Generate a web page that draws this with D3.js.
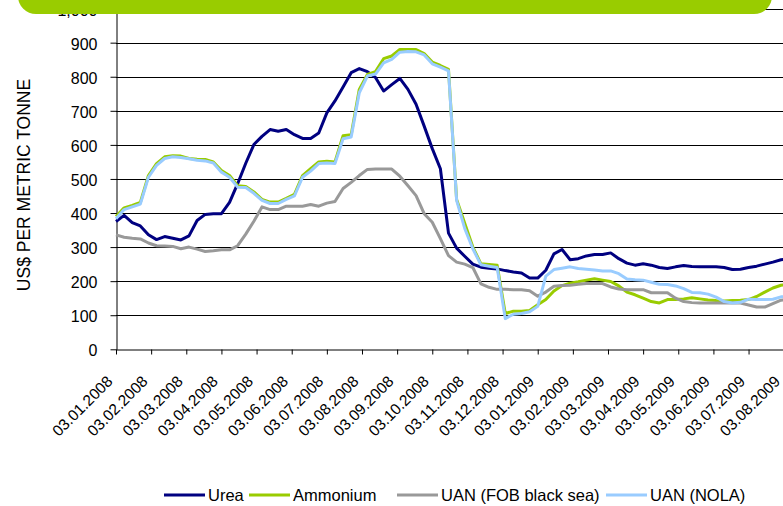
<!DOCTYPE html>
<html>
<head>
<meta charset="utf-8">
<script src="https://cdn.jsdelivr.net/npm/d3@7"></script>
<style>
    body { margin: 0; background: #fff; }
    svg { display: block; font-family: "Liberation Sans", Arial, sans-serif; }
</style>
</head>
<body>
<div id="chart"></div>
<script>
const width = 783;
const height = 506;

// Month labels on the x axis (one tick per month, data is weekly)
const dateLabels = [
    "03.01.2008", "03.02.2008", "03.03.2008", "03.04.2008", "03.05.2008",
    "03.06.2008", "03.07.2008", "03.08.2008", "03.09.2008", "03.10.2008",
    "03.11.2008", "03.12.2008", "03.01.2009", "03.02.2009", "03.03.2009",
    "03.04.2009", "03.05.2009", "03.06.2009", "03.07.2009", "03.08.2009"
];
const yTicks = [0, 100, 200, 300, 400, 500, 600, 700, 800, 900, 1000];

const seriesNames = ["Urea", "Ammonium", "UAN (FOB black sea)", "UAN (NOLA)"];
const seriesColors = ["#000080", "#99cc00", "#999999", "#99ccff"];

// Weekly prices, US$ per metric tonne
const urea = [
    375, 393, 372, 362, 336, 322, 331, 326, 321, 333,
    378, 396, 398, 398, 431, 486, 546, 601, 625, 645,
    640, 645, 630, 619, 619, 635, 694, 729, 770, 812,
    824, 815, 798, 758, 777, 795, 763, 719, 655, 589,
    530, 341, 297, 273, 250, 241, 238, 236, 231, 227,
    224, 209, 209, 232, 280, 293, 263, 266, 274, 278,
    278, 283, 266, 253, 247, 251, 247, 240, 237, 242,
    246, 243, 242, 242, 242, 240, 234, 235, 240, 244,
    250, 256, 263, 266
];
const ammonium = [
    390, 415, 422, 431, 510, 545, 565, 568, 567, 560,
    558, 557, 550, 525, 510, 480, 478, 462, 440, 432,
    432, 443, 455, 510, 530, 550, 552, 550, 627, 630,
    763, 807, 815, 853, 861, 880, 880, 880, 868, 843,
    833, 822, 440, 370, 300, 251, 249, 247, 105, 112,
    112, 114, 131, 146, 171, 187, 194, 198, 203, 207,
    203, 199, 186, 168, 160, 150, 140, 136, 146, 146,
    148, 151, 148, 145, 143, 142, 143, 144, 146, 155,
    168, 180, 188, 192
];
const uanBlackSea = [
    336, 329, 326, 324, 312, 304, 303, 302, 295, 300,
    294, 287, 289, 292, 292, 304, 338, 376, 418, 410,
    410, 420, 420, 420, 425, 420, 429, 434, 472, 490,
    510, 528, 529, 529, 529, 508, 480, 451, 398, 373,
    325, 275, 256, 250, 240, 192, 182, 176, 176, 175,
    175, 172, 156, 168, 185, 187, 188, 191, 193, 193,
    193, 183, 177, 175, 175, 175, 166, 166, 166, 150,
    140, 137, 136, 136, 136, 136, 136, 136, 130, 124,
    124, 134, 144, 148
];
const uanNola = [
    383, 410, 418, 426, 505, 540, 560, 565, 563, 559,
    555, 553, 547, 520, 505, 476, 475, 458, 437, 428,
    428, 440, 450, 505, 523, 545, 547, 545, 618, 623,
    753, 802, 808, 841, 851, 872, 874, 873, 864, 838,
    828, 817, 437, 355, 295, 248, 244, 240, 90, 103,
    105, 110, 126, 215, 234, 238, 242, 237, 235, 233,
    230, 230, 222, 206, 204, 203, 197, 191, 190, 186,
    178, 167, 166, 162, 153, 140, 136, 138, 147, 146,
    146, 147, 154, 156
];

const weeksPerMonth = 52 / 12;
const plotLeft = 116;
const plotRight = 783.7;   // position of the last month tick (03.08.2009)
const plotBottom = 349.3;
const plotTop = 8.6;

const svg = d3.select("#chart")
    .append("svg")
    .attr("width", width)
    .attr("height", height);

const x = d3.scaleLinear()
    .domain([0, (dateLabels.length - 1) * weeksPerMonth])
    .range([plotLeft, plotRight]);

const y = d3.scaleLinear()
    .domain([0, 1000])
    .range([plotBottom, plotTop]);

// Horizontal gridlines
svg.append("g")
    .selectAll("line")
    .data(yTicks.filter(d => d > 0))
    .enter()
    .append("line")
    .attr("x1", plotLeft)
    .attr("x2", width)
    .attr("y1", d => Math.round(y(d)) + 0.5)
    .attr("y2", d => Math.round(y(d)) + 0.5)
    .attr("stroke", "#000")
    .attr("stroke-width", 1);

// Y axis
const yAxis = svg.append("g")
    .attr("transform", `translate(${plotLeft + 0.5},0)`)
    .call(d3.axisLeft(y).tickValues(yTicks).tickSize(6).tickSizeOuter(0).tickPadding(13));
yAxis.attr("font-family", null).attr("font-size", 16);
yAxis.selectAll("text").attr("fill", "#000").attr("dy", "0.4em");
yAxis.selectAll("line,path").attr("stroke", "#000");

// X axis with rotated month labels
const xAxis = svg.append("g")
    .attr("transform", `translate(0,${Math.round(plotBottom) + 0.5})`)
    .call(d3.axisBottom(x)
        .tickValues(dateLabels.map((d, i) => i * weeksPerMonth))
        .tickFormat((d, i) => dateLabels[i])
        .tickSize(5)
        .tickSizeOuter(0));
xAxis.attr("font-family", null).attr("font-size", 15.5);
xAxis.selectAll("line,path").attr("stroke", "#000");
xAxis.selectAll("text")
    .attr("fill", "#000")
    .attr("x", 0)
    .attr("y", 0)
    .attr("dy", 0)
    .attr("text-anchor", "end")
    .attr("transform", "translate(-3,33) rotate(-45)");

// Axis title
svg.append("text")
    .attr("transform", "translate(29.5,185) rotate(-90)")
    .attr("text-anchor", "middle")
    .attr("font-size", 17.5)
    .attr("fill", "#000")
    .text("US$ PER METRIC TONNE");

// Series lines
const allSeries = [urea, ammonium, uanBlackSea, uanNola];
const line = d3.line()
    .x((d, i) => x(i))
    .y(d => y(d));

svg.append("g")
    .selectAll("path")
    .data(allSeries)
    .enter()
    .append("path")
    .attr("d", d => line(d))
    .attr("fill", "none")
    .attr("stroke", (d, i) => seriesColors[i])
    .attr("stroke-width", 3)
    .attr("stroke-linejoin", "round");

// Legend (entry start positions as laid out in the original)
const legendX = [164, 249, 397, 606];
const legend = svg.append("g")
    .attr("transform", "translate(0,495)");
seriesNames.forEach((name, i) => {
    legend.append("line")
        .attr("x1", legendX[i])
        .attr("x2", legendX[i] + 41)
        .attr("y1", 0)
        .attr("y2", 0)
        .attr("stroke", seriesColors[i])
        .attr("stroke-width", 3);
    legend.append("text")
        .attr("x", legendX[i] + 44)
        .attr("y", 6)
        .attr("font-size", 16.5)
        .attr("fill", "#000")
        .text(name);
});

// Green banner at the top
svg.append("rect")
    .attr("x", 18)
    .attr("y", -40)
    .attr("width", 754)
    .attr("height", 54)
    .attr("rx", 18)
    .attr("fill", "#99cc00");
</script>
</body>
</html>
